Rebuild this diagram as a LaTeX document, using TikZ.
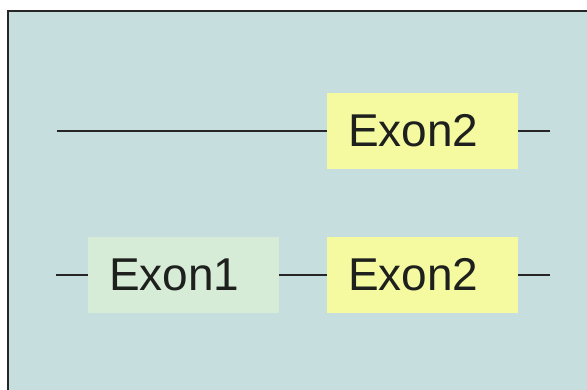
\documentclass[tikz,border=0pt]{standalone}
\usepackage{fontspec}
\setmainfont{Liberation Sans}
\definecolor{bgblue}{RGB}{198,222,222}
\definecolor{exyellow}{RGB}{245,249,160}
\definecolor{exgreen}{RGB}{214,236,214}
\definecolor{txtdark}{RGB}{30,32,30}
\begin{document}
\begin{tikzpicture}[x=1pt,y=-1pt,
  exonbox/.style={minimum width=191pt, minimum height=76pt, inner xsep=21pt, inner ysep=0pt,
    text width=149pt, align=left, font=\fontsize{46}{46}\selectfont, text=txtdark, outer sep=0pt},
  wire/.style={line width=2pt, draw=black!85}]
\useasboundingbox (0,0) rectangle (587,389);
\fill[white] (0,0) rectangle (587,389);
\fill[bgblue] (8,11) rectangle (600,400);
\draw[line width=2.8pt, draw=black!85] (8,400) -- (8,11) -- (600,11);
% top row
\node[exonbox, fill=exyellow] (t2) at (422.5,131) {Exon2};
\coordinate (tl) at (57,131);
\coordinate (tr) at (550,131);
\draw[wire] (tl) -- (t2.west);
\draw[wire] (t2.east) -- (tr);
% bottom row
\node[exonbox, fill=exgreen] (b1) at (183.5,274.5) {Exon1};
\node[exonbox, fill=exyellow] (b2) at (422.5,274.5) {Exon2};
\coordinate (bl) at (56,274.5);
\coordinate (br) at (550,274.5);
\draw[wire] (bl) -- (b1.west);
\draw[wire] (b1.east) -- (b2.west);
\draw[wire] (b2.east) -- (br);
\end{tikzpicture}
\end{document}
